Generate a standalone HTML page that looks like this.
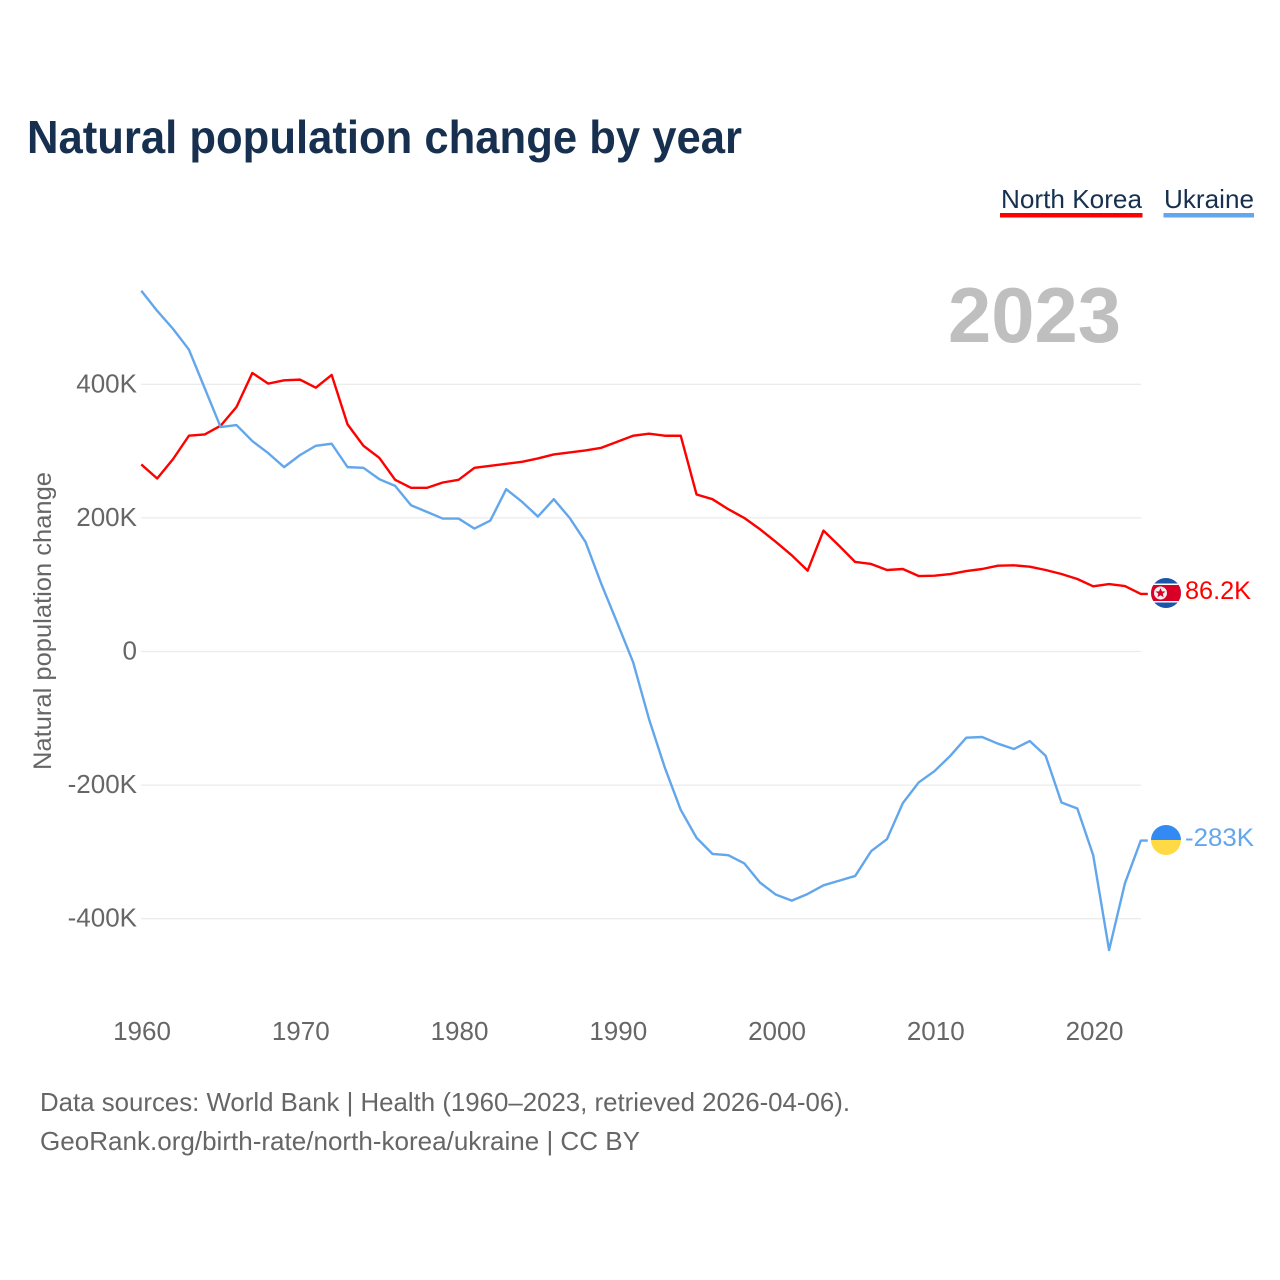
<!DOCTYPE html>
<html lang="en">
<head>
<meta charset="utf-8">
<title>Natural population change by year</title>
<style>
html,body{margin:0;padding:0;background:#fff;width:1280px;height:1280px;overflow:hidden}
svg{display:block}
text{font-family:"Liberation Sans",sans-serif}
.tick{font-size:26px;fill:#666}
.foot{font-size:26px;fill:#666}
</style>
</head>
<body>
<svg id="chart" width="1280" height="1280" viewBox="0 0 1280 1280" xmlns="http://www.w3.org/2000/svg">
  <text x="27" y="153" font-size="46" font-weight="700" fill="#17304f" textLength="715" lengthAdjust="spacingAndGlyphs">Natural population change by year</text>

  <g>
    <text x="1001" y="208" font-size="26" fill="#17304f" textLength="141" lengthAdjust="spacingAndGlyphs">North Korea</text>
    <rect x="1000" y="213" width="142.500" height="4.500" fill="#ff0000"/>
  </g>
  <g>
    <text x="1164" y="208" font-size="26" fill="#17304f" textLength="90" lengthAdjust="spacingAndGlyphs">Ukraine</text>
    <rect x="1163.500" y="213" width="90.500" height="4.500" fill="#62a6ec"/>
  </g>

  <text x="948" y="342" font-size="78" font-weight="700" fill="#bfbfbf" textLength="173" lengthAdjust="spacingAndGlyphs">2023</text>

  <text transform="translate(51 621) rotate(-90)" text-anchor="middle" font-size="25" fill="#666" textLength="298" lengthAdjust="spacingAndGlyphs">Natural population change</text>

  <g id="grid"></g>
  <g id="yticks"></g>
  <g id="xticks"></g>
  <g id="lines"></g>

  <g>
    <clipPath id="nk-clip"><circle cx="1166" cy="593" r="15"/></clipPath>
    <g clip-path="url(#nk-clip)">
      <rect x="1151" y="578" width="30" height="30" fill="#1a55a8"/>
      <rect x="1151" y="583.500" width="30" height="19" fill="#fff"/>
      <rect x="1151" y="585" width="30" height="16" fill="#d80027"/>
      <circle cx="1160.500" cy="593" r="6.500" fill="#f4f0f0"/>
      <polygon points="1160.500,588 1161.900,591.400 1165.500,591.500 1162.700,593.800 1163.600,597.300 1160.500,595.300 1157.400,597.300 1158.300,593.800 1155.500,591.500 1159.100,591.400" fill="#d80027"/>
    </g>
  </g>
  <text id="nk-label" x="1185" y="599" font-size="25" fill="#ff0000" textLength="66" lengthAdjust="spacingAndGlyphs">86.2K</text>

  <g>
    <clipPath id="ua-clip"><circle cx="1166" cy="840" r="15"/></clipPath>
    <g clip-path="url(#ua-clip)">
      <rect x="1151" y="825" width="30" height="15" fill="#338af3"/>
      <rect x="1151" y="840" width="30" height="15" fill="#ffda44"/>
    </g>
  </g>
  <text id="ua-label" x="1185" y="846" font-size="25" fill="#62a6ec" textLength="69" lengthAdjust="spacingAndGlyphs">-283K</text>

  <text class="foot" x="40" y="1111" textLength="810" lengthAdjust="spacingAndGlyphs">Data sources: World Bank | Health (1960–2023, retrieved 2026-04-06).</text>
  <text class="foot" x="40" y="1150" textLength="600" lengthAdjust="spacingAndGlyphs">GeoRank.org/birth-rate/north-korea/ukraine | CC BY</text>
</svg>
<script>
const startYear = 1960;
const yTickValues = [400, 200, 0, -200, -400];
const yTickLabels = ["400K", "200K", "0", "-200K", "-400K"];
const xTickYears = [1960, 1970, 1980, 1990, 2000, 2010, 2020];
const northKorea = [280,259,288,323,325,338,366,417,401,406,407,395,414,340,308,290,257,245,245,253,257,275,278,281,284,289,295,298,301,305,314,323,326,323,323,235,228,213,200,183,164,144,121,181,158,134,131,122,123.5,113,113.5,116,120.5,123.5,128.5,129,127,122,116,108.5,97.6,101,98,86.2];
const ukraine = [540,510,483,452,394,336,339,315,297,276,294,308,311,276,275,258,248,219,209,199,199,184,196,243,224,202,228,200,164,101,43,-16,-101,-174,-237,-279,-303,-305,-317,-346,-364,-373,-363,-350,-343,-336,-299,-281,-227,-196,-179,-156,-129,-128,-138,-146,-134,-156,-226,-235,-305,-447,-347,-283];

const NS = 'http://www.w3.org/2000/svg';
function xScale(year) { return 141.3 + (year - 1960) * 15.865; }
function yScale(value) { return 651.5 - value * 0.668; }
function tickX(year) { return 142 + (year - 1960) * 15.875; }

const grid = document.getElementById('grid');
const yticks = document.getElementById('yticks');
yTickValues.forEach(function (v, i) {
  const line = document.createElementNS(NS, 'line');
  
  
  line.setAttribute('x1', 141);
  line.setAttribute('x2', 1141);
  line.setAttribute('y1', yScale(v));
  line.setAttribute('y2', yScale(v));
  line.setAttribute('stroke', '#ececec');
  line.setAttribute('stroke-width', 1.300);
  grid.appendChild(line);

  const label = document.createElementNS(NS, 'text');
  
  
  label.setAttribute('class', 'tick');
  label.setAttribute('x', 137);
  label.setAttribute('y', yScale(v) + 8);
  label.setAttribute('text-anchor', 'end');
  label.textContent = yTickLabels[i];
  yticks.appendChild(label);
});

const xticks = document.getElementById('xticks');
xTickYears.forEach(function (yr) {
  const label = document.createElementNS(NS, 'text');
  
  
  label.setAttribute('class', 'tick');
  label.setAttribute('x', tickX(yr));
  label.setAttribute('y', 1040);
  label.setAttribute('text-anchor', 'middle');
  label.textContent = String(yr);
  xticks.appendChild(label);
});

const linesGroup = document.getElementById('lines');
function drawSeries(values, colour) {
  const pts = values.map(function (v, i) {
    return xScale(startYear + i).toFixed(2) + ',' + yScale(v).toFixed(2);
  });
  const last = values[values.length - 1];
  pts.push((xScale(startYear + values.length - 1) + 7).toFixed(2) + ',' + yScale(last).toFixed(2));
  const path = document.createElementNS(NS, 'polyline');
  path.setAttribute('points', pts.join(' '));
  path.setAttribute('fill', 'none');
  path.setAttribute('stroke', colour);
  path.setAttribute('stroke-width', 2.400);
  path.setAttribute('stroke-linejoin', 'round');
  linesGroup.appendChild(path);
  return path;
}
const nkLine = drawSeries(northKorea, '#ff0000');


const uaLine = drawSeries(ukraine, '#62a6ec');


</script>
</body>
</html>
